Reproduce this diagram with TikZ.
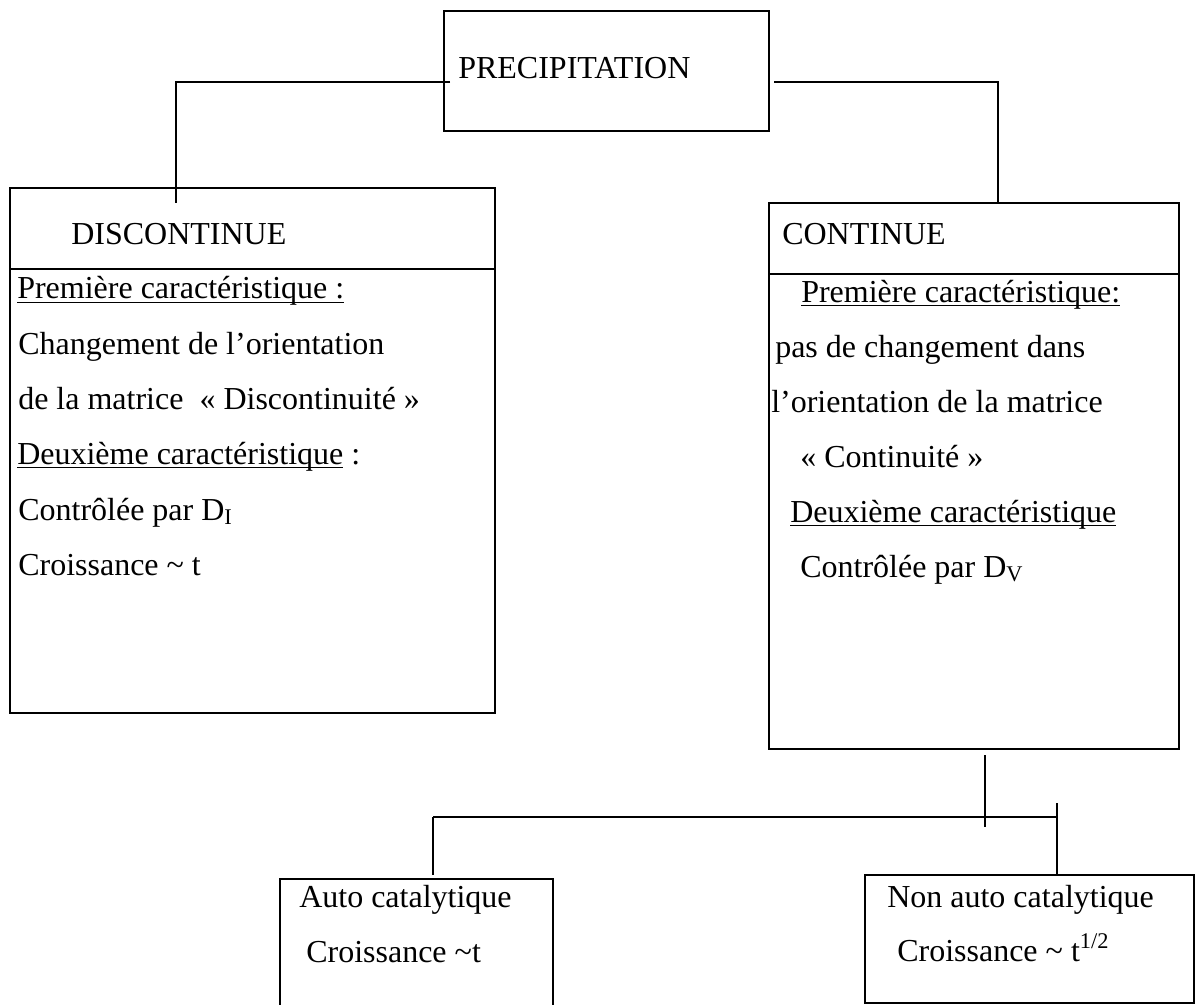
\documentclass[tikz,border=0pt]{standalone}
\usepackage{fontspec}
\setmainfont{Liberation Serif}
\usetikzlibrary{fit}
\newcommand{\myul}[1]{\setbox0\hbox{#1}\rlap{\rule[-3pt]{\wd0}{1pt}}\box0\relax}
\begin{document}
\begin{tikzpicture}[x=0.75pt,y=-0.75pt]
\tikzset{
  box/.style={draw, line width=1.2pt, inner sep=0pt, fit={#1}},
  conn/.style={line width=1.1pt},
  txt/.style={anchor=base west, inner sep=0pt, font=\fontsize{24}{28}\selectfont}
}
\useasboundingbox (0,0) rectangle (1198,1005);
\clip (0,0) rectangle (1198,1005);

% boxes
\node[box={(444,11)(769,131)}] (prec) {};
\node[box={(10,188)(495,713)}] (disc) {};
\node[box={(769,203)(1179,749)}] (cont) {};
\node[box={(280,879)(553,1020)}] (auto) {};
\node[box={(865,875)(1194,1003)}] (nonauto) {};

% dividers
\draw[line width=1.2pt] (disc.west |- 0,269) -- (disc.east |- 0,269);
\draw[line width=1.2pt] (cont.west |- 0,274) -- (cont.east |- 0,274);

% connector points
\coordinate (pl) at (450,82);
\coordinate (pr) at (774,82);
\coordinate (dl) at (176,203);
\coordinate (st) at (985,755);
\coordinate (sb) at (985,827);
\coordinate (hl) at (433,817);
\coordinate (hr) at (1057,817);
\coordinate (rt) at (1057,803);
\coordinate (al) at (433,875);

\draw[conn] (pl) -| (dl);
\draw[conn] (pr) -| (cont.north -| 998,0);
\draw[conn] (st) -- (sb);
\draw[conn] (hl) -- (hr);
\draw[conn] (hl) -- (al);
\draw[conn] (rt) -- (nonauto.north -| rt);

% texts
\node[txt] (tprec) at (458,79) {PRECIPITATION};

\node[txt] (tdisc) at (71,245) {DISCONTINUE};
\node[txt] (d1) at (17,299) {\myul{Première caractéristique :}};
\node[txt] (d2) at (18,354) {Changement de l’orientation};
\node[txt] (d3) at (18,409) {de la matrice\ \ « Discontinuité »};
\node[txt] (d4) at (17,464) {\myul{Deuxième caractéristique}\ :};
\node[txt] (d5) at (18,520) {Contrôlée par D\textsubscript{I}};
\node[txt] (d6) at (18,575) {Croissance \textasciitilde{} t};

\node[txt] (tcont) at (782,245) {CONTINUE};
\node[txt] (c1) at (801,302) {\myul{Première caractéristique:}};
\node[txt] (c2) at (775,357) {pas de changement dans};
\node[txt] (c3) at (771,412) {l’orientation de la matrice};
\node[txt] (c4) at (800,467) {« Continuité »};
\node[txt] (c5) at (790,522) {\myul{Deuxième caractéristique}};
\node[txt] (c6) at (800,577) {Contrôlée par D\textsubscript{V}};

\node[txt] (a1) at (299,907) {Auto catalytique};
\node[txt] (a2) at (306,962) {Croissance \textasciitilde t};
\node[txt] (n1) at (887,907) {Non auto catalytique};
\node[txt] (n2) at (897,961) {Croissance \textasciitilde{} t\textsuperscript{1/2}};
\end{tikzpicture}
\end{document}
